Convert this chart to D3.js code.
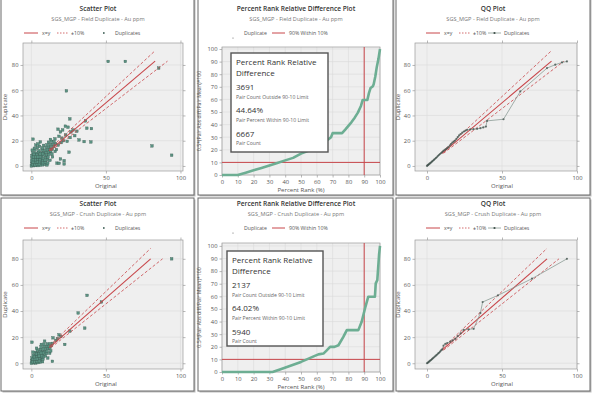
<!DOCTYPE html>
<html>
<head>
<meta charset="utf-8">
<script src="https://cdn.jsdelivr.net/npm/d3@7"></script>
<style>
  body { margin: 0; background: #fff; }
  svg { display: block; font-family: "Open Sans", sans-serif; }
</style>
</head>
<body>
<svg id="chart" width="592" height="393"></svg>
<script>
// ---- data ----
const scatterXTicks = [0, 50, 100];
const scatterYTicks = [0, 20, 40, 60, 80];
const rankTicks = [0, 10, 20, 30, 40, 50, 60, 70, 80, 90, 100];

const fieldScatter = [
  [0,0],[1.5,0.2],[3,0.4],[4.5,0.3],[6,0.6],[7.5,0.9],[9,1.2],[10.5,0.8],
  [0.3,1.8],[1.8,2.1],[3.3,1.9],[4.8,2.3],[6.3,2.0],[7.8,2.6],[9.3,2.9],[11,2.4],
  [0.2,3.8],[1.6,4.2],[3.1,3.9],[4.6,4.3],[6.1,4.0],[7.6,4.5],[9.1,4.8],[10.8,5.1],
  [0.5,6.0],[2.0,5.8],[3.5,6.3],[5.0,6.1],[6.5,6.4],[8.0,6.0],[9.6,6.8],[11.2,7.2],
  [0.4,8.2],[2.2,8.0],[3.8,8.4],[5.4,7.9],[7.0,8.3],[8.6,8.6],[10.2,8.9],[11.8,9.3],
  [1.0,10.3],[3.0,10.0],[4.8,10.6],[6.5,10.2],[8.2,10.5],[9.8,10.8],[11.5,11.1],[13.0,11.4],
  [2.5,12.5],[5.0,12.1],[7.2,12.6],[9.0,12.3],[10.8,12.8],[12.4,13.0],[14.0,13.2],
  [4.0,14.5],[7.5,14.2],[9.8,14.6],[11.6,14.9],[13.2,15.1],[15.0,15.4],
  [3.0,16.5],[8.2,16.3],[10.5,16.8],[12.6,17.2],[14.5,17.0],[16.2,17.6],
  [6.0,19.0],[11.5,18.8],[13.5,19.6],[15.2,19.2],[1.1,21.2],[4.5,17.5],[12.8,21],[15.8,21.5],
  [12.5,4.5],[14.2,7.2],[13.8,9.5],[16,11.5],[17.2,2.2],[19.5,5.5],[22,1.6],[22,4.2],
  [18.6,2.1],[25.3,10.9],[17.9,29.1],[19.5,27.0],[21.0,28.5],[24.6,30.7],[22.8,31.5],
  [29.1,24],[32,20.6],[18.5,23.5],[20.5,22.0],[23.0,24.5],[26.5,27.0],[28.0,28.5],
  [30.5,27.5],[16.8,13.0],[18.0,16.5],[20.0,18.5],[21.5,20.0],[24.0,19.5],[26.0,22.5],
  [2.0,14.0],[0.6,12.5],[5.5,15.5],
  [0.8,1.0],[2.4,0.9],[3.9,1.2],[5.3,1.4],[2.6,3.0],[4.0,3.2],[5.5,3.3],[1.2,2.9],
  [1.3,5.0],[2.8,4.9],[4.2,5.2],[5.7,5.0],[1.4,7.1],[2.9,7.0],[4.4,7.2],[6.0,7.3],
  [1.8,9.2],[3.6,9.1],[5.9,9.3],[7.6,9.6],
  [51.5,82.8],[63,82.8],[85.4,77.5],[23.5,59.5],[80.9,15.9],[94.1,8.5],[25.8,37.3],
  [36.3,35.7],[37.2,29.9],[40.3,29.6],[35.4,19.3],[39.9,19.0]
];

const crushScatter = [
  [0,0],[1.5,0.3],[3,0.2],[4.5,0.5],[6,0.9],[7.5,1.2],
  [0.2,2.0],[1.7,1.8],[3.2,2.2],[4.7,2.5],[6.2,2.8],[7.8,3.0],
  [0.4,4.1],[1.9,3.9],[3.4,4.3],[4.9,4.5],[6.4,4.8],[8.0,5.0],[9.4,5.6],
  [1.2,6.1],[2.8,6.0],[4.3,6.4],[5.8,6.6],[7.3,6.9],[8.8,7.2],[10.2,7.5],
  [2.5,8.3],[4.2,8.1],[5.8,8.6],[7.4,8.8],[9.0,9.0],[10.6,9.3],
  [4.0,10.2],[6.0,10.5],[7.8,10.9],[9.5,11.0],[11.0,11.3],[12.4,11.6],
  [6.5,12.4],[8.6,12.8],[10.4,12.9],[12.0,13.2],[13.4,13.5],
  [8.5,14.6],[10.8,14.8],[12.6,15.0],[14.2,15.2],
  [0.8,1.1],[2.3,1.0],[3.8,1.3],[5.3,1.6],[1.1,3.0],[2.6,3.1],[4.0,3.3],[5.5,3.6],
  [2.0,5.0],[3.6,5.2],[5.1,5.5],[6.9,5.8],[3.5,7.1],[5.0,7.4],[6.6,7.7],[8.1,8.0],
  [0.4,16.1],[8.9,16.9],[6.7,14.4],[12.3,7.7],[14.1,1.5],[14.5,19.5],[18.6,21.8],
  [22.4,14.4],[16.5,17.5],[17.5,18.8],[19.8,20.5],[11.0,4.0],[13.0,9.5],[3.5,11.5],[1.0,8.5],
  [25.8,24.6],[31.4,38.5],[35.8,26.9],[37.4,52],[47,46.9],[94.1,80]
];

const fieldQQ = [
  [0,0],[0.4,0.5],[0.8,0.9],[1.2,1.3],[1.7,1.8],[2.2,2.3],[2.8,2.9],[3.3,3.5],[3.9,4.1],
  [4.6,4.8],[5.2,5.5],[5.9,6.2],[6.5,6.9],[7.2,7.8],[7.9,8.6],[8.6,9.4],[9.4,10.2],
  [10.1,11.0],[10.9,11.9],[11.8,12.7],[12.6,13.4],[13.5,14.1],[14.3,15.0],[15.2,16.2],
  [16.0,17.3],[16.9,18.4],[17.8,19.2],[18.7,20.1],[19.6,21.4],[20.5,22.9],[21.4,24.2],
  [22.4,25.3],[23.5,26.4],[24.6,27.3],[25.7,28.0],[26.7,28.6],[28.8,28.9],[31,29.1],
  [33.4,29.4],[35.6,29.9],[37.5,30.5],[39.3,31.2],[40,35.7],[51,37],[62.2,59],
  [80,77.5],[85.5,80.2],[90,82],[93.3,82.8]
];

const crushQQ = [
  [0,0],[0.5,0.4],[1.0,0.9],[1.5,1.4],[2.1,2.0],[2.7,2.5],[3.3,3.1],[3.9,3.8],[4.5,4.4],
  [5.2,5.1],[5.9,5.8],[6.6,6.5],[7.3,7.3],[8.0,8.0],[8.7,8.9],[9.4,9.8],[10.1,10.6],
  [11,13.5],[12.2,14.9],[13.5,15.5],[15.5,16.5],[17,17.5],[18.9,18.7],[20.5,20.8],
  [22.4,22.9],[24.4,25.6],[27.8,26.0],[31.1,26.4],[35.6,38.5],[37.1,46.9],[47.3,52],
  [70,64.8],[93.3,80]
];

const fieldRank = [
  [0,0],[10,0],[15,1.8],[20,3.7],[25,5.6],[30,7.6],[35,9.6],[40,11.6],[45,13.6],[50,17],
  [55,19.5],[60,22.5],[64,25.5],[67,28],[69,30],[70,33.2],[76,33.2],[78,36],[82,42],
  [84,45.5],[86,49.5],[88,55],[89,59.5],[92,59.5],[93,65],[94,69],[95.5,70.5],[96,72],
  [97,78],[98,86],[99,92],[100,100]
];

const crushRank = [
  [0,0],[32,0],[38,2.6],[44.2,5.3],[50,8],[53.7,10],[58,12.4],[61,14],[64.2,14.6],
  [66.3,17.2],[68.4,19.9],[71.2,19.9],[73.7,21.2],[76.8,27.8],[79,33.2],[86.3,33.2],
  [88.4,39.8],[90.5,50.4],[92.6,59.7],[96.8,59.7],[97.3,70.3],[98.3,72.9],[99.4,92.8],[100,100]
];

const statLabels = ["Pair Count Outside 90-10 Limit", "Pair Percent Within 90-10 Limit", "Pair Count"];
const fieldStats = ["3691", "44.64%", "6667"];
const crushStats = ["2137", "64.02%", "5940"];

const fieldSubtitle = "SGS_MGP - Field Duplicate - Au ppm";
const crushSubtitle = "SGS_MGP - Crush Duplicate - Au ppm";

// ---- styles ----
const RED = "#c8464a";
const PT_FILL = "#5a9282";
const PT_STROKE = "#3c5d54";
const GREEN = "#6dae93";
const TXT = "#555";

const svg = d3.select("#chart");

function panelFrame(x0, y0, x1, y1) {
  svg.append("rect").attr("x", x0 + 1.5).attr("y", y0 + 1.5)
    .attr("width", x1 - x0).attr("height", y1 - y0).attr("fill", "#bdbdbd");
  svg.append("rect").attr("x", x0).attr("y", y0)
    .attr("width", x1 - x0).attr("height", y1 - y0)
    .attr("fill", "#fff").attr("stroke", "#6a6a6a").attr("stroke-width", 1);
}

function headers(cx, oy, title, sub) {
  svg.append("text").attr("x", cx).attr("y", oy + 10.5).attr("text-anchor", "middle")
    .attr("font-size", 6.6).attr("font-weight", 600).attr("fill", "#333").text(title);
  svg.append("text").attr("x", cx).attr("y", oy + 21).attr("text-anchor", "middle")
    .attr("font-size", 5.6).attr("fill", "#777").text(sub);
}

// plot background, grid, axes on four sides
function plotBase(c, x, y, xTicks, yTicks, mirror) {
  const g = svg.append("g");
  g.append("rect").attr("x", c.l).attr("y", c.t).attr("width", c.r - c.l).attr("height", c.b - c.t)
    .attr("fill", "#efefef");
  g.selectAll(".gx").data(xTicks).enter().append("line")
    .attr("x1", d => x(d)).attr("x2", d => x(d)).attr("y1", c.t).attr("y2", c.b)
    .attr("stroke", "#dadada").attr("stroke-width", 0.6);
  g.selectAll(".gy").data(yTicks).enter().append("line")
    .attr("y1", d => y(d)).attr("y2", d => y(d)).attr("x1", c.l).attr("x2", c.r)
    .attr("stroke", "#dadada").attr("stroke-width", 0.6);

  const ax = (gen, tx, ty) => {
    const a = svg.append("g").attr("transform", `translate(${tx},${ty})`).call(gen);
    a.select(".domain").remove();
    a.selectAll("line").attr("stroke", "#888").attr("stroke-width", 0.6);
    a.selectAll("text").attr("fill", TXT).attr("font-size", 5.8)
      .attr("font-family", "Open Sans, sans-serif");
    return a;
  };
  ax(d3.axisBottom(x).tickValues(xTicks).tickSize(2.5).tickPadding(2), 0, c.b);
  ax(d3.axisLeft(y).tickValues(yTicks).tickSize(2.5).tickPadding(2), c.l, 0);
  if (mirror) {
    ax(d3.axisTop(x).tickValues(xTicks).tickSize(2.5).tickFormat(""), 0, c.t);
    ax(d3.axisRight(y).tickValues(yTicks).tickSize(2.5).tickFormat(""), c.r, 0);
  }
  svg.append("rect").attr("x", c.l).attr("y", c.t).attr("width", c.r - c.l).attr("height", c.b - c.t)
    .attr("fill", "none").attr("stroke", "#9a9a9a").attr("stroke-width", 0.7);
}

function axisTitles(c, x, xLabel, yLabel, yx) {
  svg.append("text").attr("x", x(50)).attr("y", c.b + 17).attr("text-anchor", "middle")
    .attr("font-size", 6).attr("fill", TXT).text(xLabel);
  svg.append("text").attr("transform", `translate(${yx},${(c.t + c.b) / 2}) rotate(-90)`)
    .attr("text-anchor", "middle").attr("font-size", yLabel.length > 12 ? 5.2 : 6)
    .attr("fill", TXT).text(yLabel);
}

function refLines(g, x, y, maxV, startV) {
  const line = d3.line().x(d => x(d[0])).y(d => y(d[1]));
  const sets = [
    { pts: [[startV, startV * 1.1], [maxV, maxV * 1.1]], dash: "3,2", w: 0.8 },
    { pts: [[startV * 1.1, startV], [maxV * 1.1, maxV]], dash: "3,2", w: 0.8 },
    { pts: [[startV, startV], [maxV, maxV]], dash: null, w: 1.1 }
  ];
  sets.forEach(s => {
    g.append("path").attr("d", line(s.pts)).attr("fill", "none")
      .attr("stroke", RED).attr("stroke-width", s.w)
      .attr("stroke-dasharray", s.dash);
  });
}

function legendXY(lx, oy, qq) {
  const ly = oy + 33;
  svg.append("line").attr("x1", lx).attr("x2", lx + 14).attr("y1", ly).attr("y2", ly)
    .attr("stroke", RED).attr("stroke-width", 1);
  svg.append("text").attr("x", lx + 18).attr("y", ly + 2).attr("font-size", 5.2).attr("fill", TXT).text("x=y");
  svg.append("line").attr("x1", lx + 33).attr("x2", lx + 45).attr("y1", ly).attr("y2", ly)
    .attr("stroke", RED).attr("stroke-width", 0.8).attr("stroke-dasharray", "1.5,1.5");
  svg.append("text").attr("x", lx + 47).attr("y", ly + 2).attr("font-size", 5.2).attr("fill", TXT).text("±10%");
  if (qq) {
    svg.append("line").attr("x1", lx + 62).attr("x2", lx + 75).attr("y1", ly).attr("y2", ly)
      .attr("stroke", "#8c9c96").attr("stroke-width", 0.8);
    svg.append("circle").attr("cx", lx + 68.5).attr("cy", ly).attr("r", 1.1).attr("fill", "#3e4f49");
    svg.append("text").attr("x", lx + 78).attr("y", ly + 2).attr("font-size", 5.2).attr("fill", TXT).text("Duplicates");
  } else {
    svg.append("rect").attr("x", lx + 79).attr("y", ly - 0.8).attr("width", 1.6).attr("height", 1.6)
      .attr("fill", PT_STROKE);
    svg.append("text").attr("x", lx + 91).attr("y", ly + 2).attr("font-size", 5.2).attr("fill", TXT).text("Duplicates");
  }
}

function drawScatter(c, oy, pts, maxV, sub) {
  const x = d3.scaleLinear().domain(c.xd).range([c.l, c.r]);
  const y = d3.scaleLinear().domain(c.yd).range([c.b, c.t]);
  headers(98, oy, "Scatter Plot", sub);
  legendXY(24, oy, false);
  plotBase(c, x, y, scatterXTicks, scatterYTicks, true);
  const g = svg.append("g");
  g.selectAll("rect").data(pts).enter().append("rect")
    .attr("x", d => x(d[0]) - 1.3).attr("y", d => y(d[1]) - 1.3)
    .attr("width", 2.6).attr("height", 2.6)
    .attr("fill", PT_FILL).attr("stroke", PT_STROKE).attr("stroke-width", 0.35);
  refLines(g, x, y, maxV, 12);
  axisTitles(c, x, "Original", "Duplicate", 7);
}

function drawQQ(c, oy, pts, maxV, sub) {
  const x = d3.scaleLinear().domain(c.xd).range([c.l, c.r]);
  const y = d3.scaleLinear().domain(c.yd).range([c.b, c.t]);
  headers(493, oy, "QQ Plot", sub);
  legendXY(426, oy, true);
  plotBase(c, x, y, scatterXTicks, scatterYTicks, true);
  const g = svg.append("g");
  refLines(g, x, y, maxV, 10);
  g.append("path").attr("d", d3.line().x(d => x(d[0])).y(d => y(d[1]))(pts))
    .attr("fill", "none").attr("stroke", "#8c9c96").attr("stroke-width", 0.8);
  g.selectAll("circle").data(pts).enter().append("circle")
    .attr("cx", d => x(d[0])).attr("cy", d => y(d[1])).attr("r", 1.1)
    .attr("fill", "#3e4f49").attr("fill-opacity", 0.75);
  axisTitles(c, x, "Original", "Duplicate", 400);
}

function drawRank(c, oy, pts, stats, box, sub) {
  const x = d3.scaleLinear().domain([0, 100]).range([c.l, c.r]);
  const y = d3.scaleLinear().domain(c.yd).range([c.b, c.t]);
  headers(296, oy, "Percent Rank Relative Difference Plot", sub);
  // legend
  const ly = oy + 33;
  svg.append("text").attr("x", 244).attr("y", ly + 2).attr("font-size", 5.2).attr("fill", TXT).text("Duplicate");
  svg.append("circle").attr("cx", 233).attr("cy", ly + 5).attr("r", 0.6).attr("fill", "#666");
  svg.append("line").attr("x1", 272).attr("x2", 285).attr("y1", ly).attr("y2", ly)
    .attr("stroke", RED).attr("stroke-width", 1);
  svg.append("text").attr("x", 289).attr("y", ly + 2).attr("font-size", 5.2).attr("fill", TXT).text("90% Within 10%");

  plotBase(c, x, y, rankTicks, rankTicks, false);
  const g = svg.append("g");
  g.append("line").attr("x1", c.l).attr("x2", c.r).attr("y1", y(10)).attr("y2", y(10))
    .attr("stroke", RED).attr("stroke-width", 1);
  g.append("line").attr("x1", x(90)).attr("x2", x(90)).attr("y1", c.b).attr("y2", c.t)
    .attr("stroke", RED).attr("stroke-width", 1);
  g.append("path").attr("d", d3.line().x(d => x(d[0])).y(d => y(d[1]))(pts))
    .attr("fill", "none").attr("stroke", GREEN).attr("stroke-width", 2.6)
    .attr("stroke-linejoin", "round");
  axisTitles(c, x, "Percent Rank (%)", "0.5*(Pair Abs diff/Pair Mean)*100", 201);

  // info box
  const b = svg.append("g").attr("transform", `translate(${box.x},${box.y})`);
  b.append("rect").attr("width", box.w).attr("height", box.h)
    .attr("fill", "#fff").attr("stroke", "#555").attr("stroke-width", 1.4);
  const big = (t, yy) => b.append("text").attr("x", 5).attr("y", yy).attr("font-size", 8).attr("fill", "#333").text(t);
  const small = (t, yy) => b.append("text").attr("x", 5).attr("y", yy).attr("font-size", 5.1).attr("fill", "#666").text(t);
  big("Percent Rank Relative", 12);
  big("Difference", 22.5);
  big(stats[0], 36.5); small(statLabels[0], 45.5);
  big(stats[1], 59.5); small(statLabels[1], 68.5);
  big(stats[2], 83.5); small(statLabels[2], 92);
}

// ---- panels ----
panelFrame(1, -2, 194, 195);
panelFrame(198, -2, 393, 195);
panelFrame(396, -2, 590, 195);
panelFrame(1, 198, 194, 391);
panelFrame(198, 198, 393, 391);
panelFrame(396, 198, 590, 391);

drawScatter({ l: 23, r: 183, t: 43, b: 171, xd: [-5.6, 101.7], yd: [-4, 97.4] }, 0, fieldScatter, 83, fieldSubtitle);
drawScatter({ l: 23, r: 183, t: 240, b: 369, xd: [-5.6, 101.7], yd: [-4.4, 94.4] }, 195, crushScatter, 80, crushSubtitle);

drawRank({ l: 222, r: 380, t: 47, b: 175, yd: [0, 101.6] }, 0, fieldRank, fieldStats,
  { x: 231, y: 53, w: 97, h: 99 }, fieldSubtitle);
drawRank({ l: 222, r: 380, t: 243, b: 372, yd: [0, 102.3] }, 195, crushRank, crushStats,
  { x: 227, y: 251, w: 96, h: 95 }, crushSubtitle);

drawQQ({ l: 415, r: 577, t: 43, b: 171, xd: [-8, 100], yd: [-4, 97.4] }, 0, fieldQQ, 83, fieldSubtitle);
drawQQ({ l: 415, r: 577, t: 240, b: 369, xd: [-8, 100], yd: [-4.4, 94.4] }, 195, crushQQ, 80, crushSubtitle);
</script>
</body>
</html>
